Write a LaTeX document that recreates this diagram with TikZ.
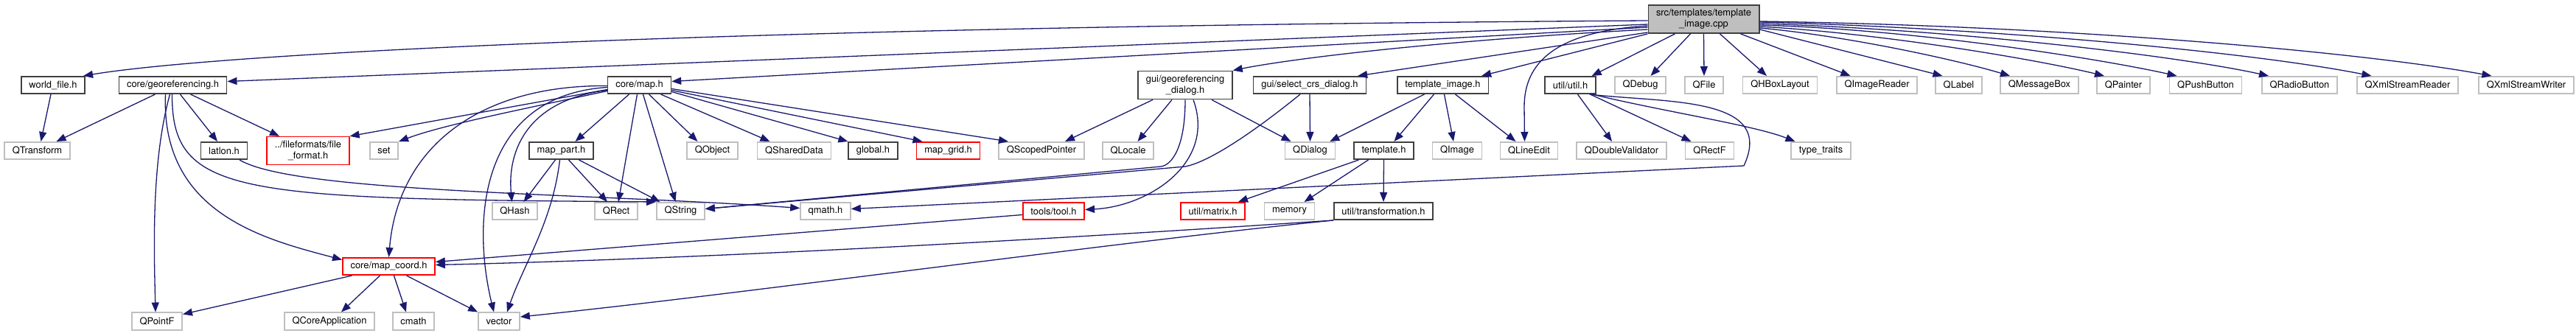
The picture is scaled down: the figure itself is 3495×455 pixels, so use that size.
\documentclass[tikz,border=0pt]{standalone}
\usepackage{fontspec}
\setmainfont{TeX Gyre Heros}
\usepackage{tikz}
\usetikzlibrary{arrows.meta}
\definecolor{docborder}{RGB}{64,64,64}
\definecolor{sysgray}{RGB}{191,191,191}
\definecolor{linkred}{RGB}{255,0,0}
\definecolor{edgeblue}{RGB}{25,25,112}

\tikzset{
    hdr/.style={draw=docborder, line width=1.6pt, fill=white,
        font=\fontsize{12.9}{15}\selectfont, align=center,
        inner xsep=10.7pt, inner ysep=5.5pt, minimum height=23.4pt},
    syshdr/.style={hdr, draw=sysgray},
    redhdr/.style={hdr, draw=linkred},
    roothdr/.style={hdr, fill=sysgray},
    inc/.style={-{Triangle[length=13pt,width=10pt]}, draw=edgeblue, line width=1.3pt}
}

\begin{document}
\begin{tikzpicture}[x=1pt, y=1pt]
    \path[use as bounding box, fill=white] (0,0) rectangle (3495,455);

    % Root
    \node[roothdr] (root) at (2311.5,429) {src/templates/template\\\_image.cpp};

    % Level 1
    \node[hdr] (worldfile) at (72,339.5) {world\_file.h};
    \node[hdr] (georef) at (234.5,339.5) {core/georeferencing.h};
    \node[hdr] (map) at (867.5,339.5) {core/map.h};
    \node[hdr] (georefdlg) at (1608,339.5) {gui/georeferencing\\\_dialog.h};
    \node[hdr] (selectcrs) at (1777,339.5) {gui/select\_crs\_dialog.h};
    \node[hdr] (tplimageh) at (1957.5,339.5) {template\_image.h};
    \node[hdr] (util) at (2130.5,339.5) {util/util.h};
    \foreach \x/\name/\txt in {2225.5/qdebug/QDebug, 2312/qfile/QFile,
        2415/qhbox/QHBoxLayout, 2546.5/qimagereader/QImageReader,
        2657.5/qlabel/QLabel, 2767/qmessagebox/QMessageBox,
        2881/qpainter/QPainter, 2992.5/qpushbutton/QPushButton,
        3120/qradiobutton/QRadioButton, 3266.5/qxmlreader/QXmlStreamReader,
        3427.5/qxmlwriter/QXmlStreamWriter} {
        \node[syshdr] (\name) at (\x,339.5) {\txt};
    }

    % Level 2
    \node[syshdr] (qtransform) at (50.5,250.5) {QTransform};
    \node[hdr] (latlon) at (304,250.5) {latlon.h};
    \node[redhdr] (fileformat) at (418,250.5) {../fileformats/file\\\_format.h};
    \node[syshdr] (set) at (521,250.5) {set};
    \node[hdr] (mappart) at (761.5,250.5) {map\_part.h};
    \node[syshdr] (qobject) at (966.5,250.5) {QObject};
    \node[syshdr] (qshareddata) at (1077.5,250.5) {QSharedData};
    \node[hdr] (global) at (1184.5,250.5) {global.h};
    \node[redhdr] (mapgrid) at (1286.5,250.5) {map\_grid.h};
    \node[syshdr] (qscopedpointer) at (1413,250.5) {QScopedPointer};
    \node[syshdr] (qlocale) at (1530.5,250.5) {QLocale};
    \node[syshdr] (qdialog) at (1777.5,250.5) {QDialog};
    \node[hdr] (template) at (1877.5,250.5) {template.h};
    \node[syshdr] (qimage) at (1977,250.5) {QImage};
    \node[syshdr] (qlineedit) at (2074.5,250.5) {QLineEdit};
    \node[syshdr] (qdoublevalidator) at (2200,250.5) {QDoubleValidator};
    \node[syshdr] (qrectf) at (2319.5,250.5) {QRectF};
    \node[syshdr] (typetraits) at (2470.5,250.5) {type\_traits};

    % Level 3
    \node[syshdr] (qhash) at (698.5,168.5) {QHash};
    \node[syshdr] (qrect) at (836,168.5) {QRect};
    \node[syshdr] (qstring) at (923.5,168.5) {QString};
    \node[syshdr] (qmath) at (1120,168.5) {qmath.h};
    \node[redhdr] (tool) at (1429.5,168.5) {tools/tool.h};
    \node[redhdr] (matrix) at (1645.5,168.5) {util/matrix.h};
    \node[syshdr] (memory) at (1749.5,168.5) {memory};
    \node[hdr] (transformation) at (1877,168.5) {util/transformation.h};

    % Level 4 and 5
    \node[redhdr] (mapcoord) at (527.5,93.5) {core/map\_coord.h};
    \node[syshdr] (qpointf) at (213,19) {QPointF};
    \node[syshdr] (qcoreapp) at (447,19) {QCoreApplication};
    \node[syshdr] (cmath) at (561,19) {cmath};
    \node[syshdr] (vector) at (677,19) {vector};

    % Root includes, left
    \draw[inc] ([yshift=-2pt]root.west) .. controls (1000,419) and (300,383) .. ([xshift=-3pt]worldfile.north east);
    \draw[inc] ([yshift=-7pt]root.west) -- ([yshift=5pt]georef.east);
    \draw[inc] ([yshift=-11pt]root.west) -- ([yshift=5pt]map.east);
    \draw[inc] ([yshift=-14pt]root.west) .. controls (1950,400) and (1750,375) .. (georefdlg.north east);
    \draw[inc] ([yshift=-18pt]root.west) -- ([xshift=-12pt]selectcrs.north east);
    \draw[inc] (root.south west) -- ([xshift=-10pt]tplimageh.north east);
    \draw[inc] ([yshift=-9pt]root.west) .. controls (2110,412) and (2068,370) .. (2068,310) -- ([xshift=-6pt]qlineedit.north);
    \draw[inc] ([xshift=37pt]root.south west) -- ([xshift=-6pt]util.north east);

    % Root includes, below and right
    \draw[inc] ([xshift=-18pt]root.south) -- ([xshift=14pt]qdebug.north);
    \draw[inc] (root.south) -- (qfile.north);
    \draw[inc] ([xshift=22pt]root.south) -- ([xshift=-18pt]qhbox.north);
    \draw[inc] ([xshift=-26pt]root.south east) -- ([xshift=-36pt]qimagereader.north);
    \draw[inc] ([yshift=-14pt]root.east) -- ([xshift=-22pt]qlabel.north);
    \draw[inc] ([yshift=-12pt]root.east) .. controls (2500,407) and (2650,375) .. ([xshift=-40pt]qmessagebox.north);
    \draw[inc] ([yshift=-10pt]root.east) .. controls (2550,410) and (2760,375) .. ([xshift=-26pt]qpainter.north);
    \draw[inc] ([yshift=-8pt]root.east) .. controls (2600,415) and (2850,375) .. ([xshift=-39pt]qpushbutton.north);
    \draw[inc] ([yshift=-6pt]root.east) .. controls (2650,415) and (2950,380) .. ([xshift=-42pt]qradiobutton.north);
    \draw[inc] ([yshift=-4pt]root.east) .. controls (2700,417) and (3050,385) .. ([xshift=-49pt]qxmlreader.north);
    \draw[inc] ([yshift=-3pt]root.east) .. controls (2800,420) and (3200,385) .. ([xshift=-47pt]qxmlwriter.north);

    % world_file.h and core/georeferencing.h
    \draw[inc] ([xshift=-3pt]worldfile.south) -- ([xshift=5pt]qtransform.north);
    \draw[inc] ([xshift=-24pt]georef.south) -- ([xshift=26pt]qtransform.north);
    \draw[inc] ([xshift=10pt]georef.south) -- ([xshift=-9pt]latlon.north);
    \draw[inc] ([xshift=24pt]georef.south) -- ([xshift=-39pt]fileformat.north);
    \draw[inc] ([xshift=-4pt]georef.south) .. controls (205,235) and (209,115) .. ([xshift=-2pt]qpointf.north);
    \draw[inc] ([xshift=-10pt]georef.south) .. controls (218,165) and (360,130) .. ([yshift=9pt]mapcoord.west);
    \draw[inc] ([xshift=-1pt]georef.south) .. controls (233,190) and (320,185) .. (qstring.north west);
    \draw[inc] ([xshift=21pt]latlon.south) .. controls (400,193) and (800,193) .. ([yshift=4pt]qmath.west);

    % core/map.h
    \draw[inc] ([yshift=-6pt]map.west) -- (fileformat.north east);
    \draw[inc] ([yshift=-8pt]map.west) .. controls (700,305) and (600,285) .. (set.north east);
    \draw[inc] ([yshift=-1pt]map.west) .. controls (650,340) and (540,255) .. (mapcoord.north);
    \draw[inc] ([yshift=-7pt]map.west) .. controls (720,320) and (688,255) .. ([xshift=-4pt]qhash.north);
    \draw[inc] ([yshift=-3pt]map.west) .. controls (650,325) and (640,155) .. ([xshift=-7pt]vector.north);
    \draw[inc] ([xshift=-14pt]map.south) -- ([xshift=19pt]mappart.north);
    \draw[inc] ([xshift=-3pt]map.south) -- ([xshift=3pt]qrect.north);
    \draw[inc] ([xshift=5pt]map.south) -- ([xshift=-7pt]qstring.north);
    \draw[inc] ([xshift=13pt]map.south) -- ([xshift=-20pt]qobject.north);
    \draw[inc] ([xshift=29pt]map.south) -- ([xshift=-33pt]qshareddata.north);
    \draw[inc] ([yshift=-9pt]map.east) -- (global.north west);
    \draw[inc] ([yshift=-7pt]map.east) -- ([xshift=-35pt]mapgrid.north);
    \draw[inc] ([yshift=-5pt]map.east) -- ([xshift=-45pt]qscopedpointer.north);

    % map_part.h
    \draw[inc] ([xshift=-8pt]mappart.south) -- ([xshift=12pt]qhash.north);
    \draw[inc] ([xshift=-2pt]mappart.south) .. controls (750,155) and (710,95) .. ([xshift=11pt]vector.north);
    \draw[inc] ([xshift=10pt]mappart.south) -- ([xshift=-12pt]qrect.north);
    \draw[inc] ([xshift=24pt]mappart.south) -- ([xshift=-28pt]qstring.north);

    % Dialogs
    \draw[inc] ([xshift=-44pt]georefdlg.south) -- ([xshift=32pt]qscopedpointer.north);
    \draw[inc] ([xshift=-18pt]georefdlg.south) -- ([xshift=13pt]qlocale.north);
    \draw[inc] (georefdlg.south) .. controls (1608,255) and (1590,231) .. (1575,229) -- ([yshift=3pt]qstring.east);
    \draw[inc] ([xshift=11pt]georefdlg.south) .. controls (1650,235) and (1560,175) .. ([yshift=2pt]tool.east);
    \draw[inc] ([xshift=36pt]georefdlg.south) -- ([xshift=-26pt]qdialog.north);
    \draw[inc] ([xshift=-13pt]selectcrs.south) .. controls (1700,275) and (1640,235) .. (1608,229) -- ([yshift=3pt]qstring.east);
    \draw[inc] (selectcrs.south) -- (qdialog.north);

    % template_image.h and template.h
    \draw[inc] ([xshift=-25pt]tplimageh.south) -- ([xshift=-8pt]qdialog.north east);
    \draw[inc] ([xshift=-12pt]tplimageh.south) -- ([xshift=14pt]template.north);
    \draw[inc] ([xshift=2pt]tplimageh.south) -- ([xshift=-5pt]qimage.north);
    \draw[inc] ([xshift=17pt]tplimageh.south) -- ([xshift=-18pt]qlineedit.north);
    \draw[inc] ([xshift=-34pt]template.south) -- ([xshift=-10pt]matrix.north east);
    \draw[inc] ([xshift=-21pt]template.south) -- ([xshift=20pt]memory.north);
    \draw[inc] (template.south) -- (transformation.north);

    % util/util.h
    \draw[inc] ([xshift=10pt]util.south) -- ([xshift=-13pt]qdoublevalidator.north);
    \draw[inc] ([xshift=27pt]util.south) -- ([xshift=-25pt]qrectf.north);
    \draw[inc] ([xshift=26pt]util.south) .. controls (2260,315) and (2410,325) .. (2366,230) -- ([yshift=3pt]qmath.east);
    \draw[inc] ([xshift=30pt]util.south) .. controls (2250,305) and (2380,285) .. ([xshift=-35pt]typetraits.north);

    % Into core/map_coord.h and vector
    \draw[inc] ([yshift=-5pt]tool.west) -- ([yshift=6pt]mapcoord.east);
    \draw[inc] (transformation.south west) .. controls (1500,135) and (1000,105) .. ([yshift=2pt]mapcoord.east);
    \draw[inc] (transformation.south west) .. controls (1500,125) and (1000,55) .. ([yshift=6pt]vector.east);

    % core/map_coord.h
    \draw[inc] ([xshift=-50pt]mapcoord.south) -- ([yshift=-3pt]qpointf.north east);
    \draw[inc] ([xshift=-12pt]mapcoord.south) -- ([xshift=16pt]qcoreapp.north);
    \draw[inc] ([xshift=7pt]mapcoord.south) -- ([xshift=-10pt]cmath.north);
    \draw[inc] ([xshift=24pt]mapcoord.south) -- (vector.north west);
\end{tikzpicture}
\end{document}
